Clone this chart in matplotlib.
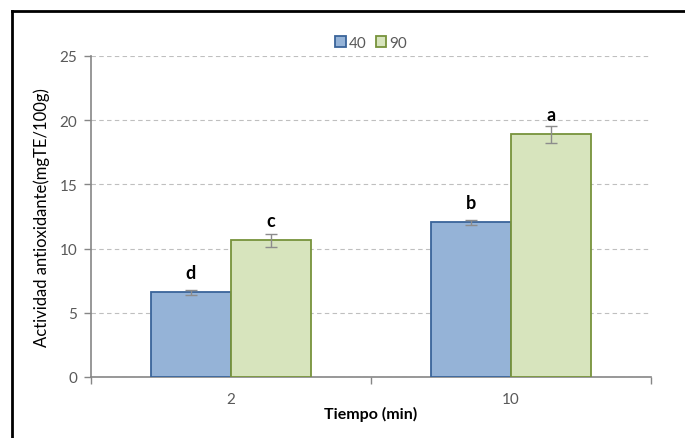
import matplotlib
matplotlib.use("Agg")
import matplotlib.pyplot as plt
from matplotlib.lines import Line2D
import numpy as np

plt.rcParams['font.family'] = ['Lato', 'DejaVu Sans']

categories = ["2", "10"]
series_names = ["40", "90"]
values_40 = [6.6, 12.05]
values_90 = [10.65, 18.9]
err_40 = [0.2, 0.18]
err_90 = [0.5, 0.65]
letters_40 = ["d", "b"]
letters_90 = ["c", "a"]
yticks = [0, 5, 10, 15, 20, 25]

W, H = 685, 439
fig = plt.figure(figsize=(W / 100, H / 100), dpi=100)
ax = fig.add_axes([91 / W, 1 - 378 / H, (651 - 91) / W, (378 - 57) / H])

x = np.arange(len(categories))
bw = 0.286
blue_fill, blue_edge = "#95B3D7", "#3A649A"
green_fill, green_edge = "#D7E4BD", "#77933C"
ecol = "#8C8C8C"

ax.bar(x - bw / 2, values_40, bw, color=blue_fill, edgecolor=blue_edge, linewidth=1.3, label=series_names[0], zorder=3)
ax.bar(x + bw / 2, values_90, bw, color=green_fill, edgecolor=green_edge, linewidth=1.3, label=series_names[1], zorder=3)
ax.errorbar(x - bw / 2, values_40, yerr=err_40, fmt="none", ecolor=ecol, elinewidth=1, capsize=4, capthick=1, zorder=4)
ax.errorbar(x + bw / 2, values_90, yerr=err_90, fmt="none", ecolor=ecol, elinewidth=1, capsize=4, capthick=1, zorder=4)

for xs, vals, labs in [(x - bw / 2, values_40, letters_40), (x + bw / 2, values_90, letters_90)]:
    for xi, v, t in zip(xs, vals, labs):
        ax.annotate(t, (xi, v), xytext=(0, 10), textcoords="offset points", ha="center", va="baseline",
                    fontsize=13, fontweight="bold", color="black", zorder=5)

ax.set_xlim(-0.5, 1.5)
ax.set_ylim(0, 25)
ax.set_yticks(yticks)
ax.set_yticklabels([str(t) for t in yticks])
ax.yaxis.grid(True, linestyle=(0, (4, 3)), color="#BFBFBF", linewidth=0.8, zorder=0)
ax.set_axisbelow(True)

ax.set_xticks(x)
ax.set_xticklabels(categories)
ax.set_xticks([-0.5, 0.5, 1.5], minor=True)
ax.tick_params(axis="x", which="major", length=0, pad=11, labelsize=11, labelcolor="#595959")
ax.tick_params(axis="x", which="minor", length=5, width=1, color="#868686", direction="out")
ax.tick_params(axis="y", length=5, width=1, color="#868686", direction="out", labelsize=11, labelcolor="#595959", pad=5)

for s in ["top", "right"]:
    ax.spines[s].set_visible(False)
for s in ["left", "bottom"]:
    ax.spines[s].set_color("#868686")
    ax.spines[s].set_linewidth(1.2)

ax.set_xlabel("Tiempo (min)", fontsize=11.5, fontweight="bold", labelpad=0)
ax.set_ylabel("Actividad antioxidante(mgTE/100g)", fontsize=12, labelpad=7)

ax.legend(loc="lower center", bbox_to_anchor=(0.5, 1.0), ncol=2, frameon=False, fontsize=11,
          handlelength=0.7, handleheight=0.7, handletextpad=0.2, columnspacing=0.6,
          labelcolor="#595959", borderaxespad=0.0)

# outer frame (left and top edges visible)
fig.add_artist(Line2D([11.5 / W, 11.5 / W], [0, 1 - 11.5 / H], transform=fig.transFigure, color="black", linewidth=2))
fig.add_artist(Line2D([11.5 / W, 1], [1 - 11.5 / H, 1 - 11.5 / H], transform=fig.transFigure, color="black", linewidth=2))

fig.savefig("out.png", dpi=100)
